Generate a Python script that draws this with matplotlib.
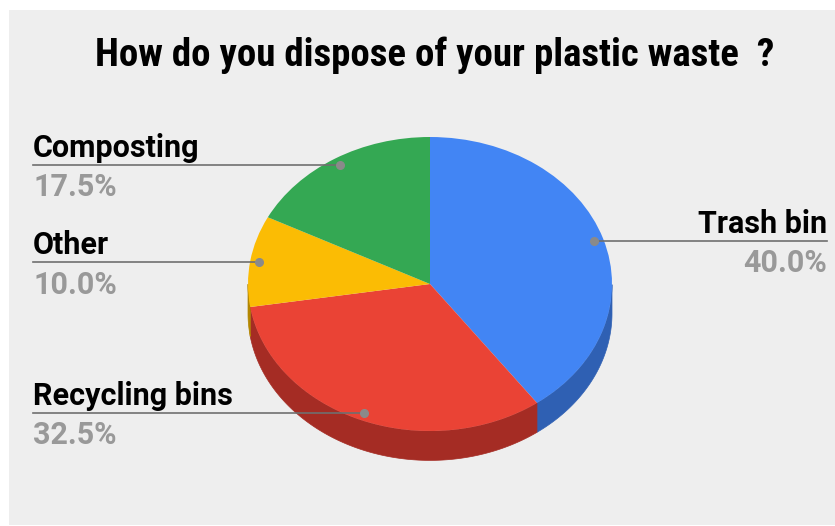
import matplotlib
matplotlib.use("Agg")
import matplotlib.pyplot as plt
import numpy as np
from matplotlib.patches import Rectangle, Polygon

# survey answers, clockwise from 12 o'clock
categories = ["Trash bin", "Recycling bins", "Other", "Composting"]
shares = [40.0, 32.5, 10.0, 17.5]
top_colors = ["#4285f4", "#ea4335", "#fbbc04", "#34a853"]
side_colors = ["#2f60b3", "#a52c24", "#b38600", "#23783a"]
title = "How do you dispose of your plastic waste  ?"

W, H = 835, 526
BG = "#eeeeee"
depth = 0.2          # thickness of the pie, in y-radius units
label_x = 2.18       # label column distance from the centre, in x-radius units

fig = plt.figure(figsize=(W / 100, H / 100), dpi=100, facecolor="white")
fig.patches.append(Rectangle((9 / W, 1 - 525 / H), 1 - 9 / W, (525 - 10) / H,
                             transform=fig.transFigure, facecolor=BG,
                             edgecolor="none", zorder=-10))

fig.text(435 / W, 1 - 55 / H, title, ha="center", va="center",
         family="Roboto Condensed", weight="bold", fontsize=28, color="#000000")

# pie axes: unit circle maps to an ellipse of 182 x 147 px centred at (430, 284)
rx, ry, cx, cy = 182, 147, 430, 284
xlo, xhi = -1.1, 1.1
ylo, yhi = -1.4, 1.1
ax = fig.add_axes([(cx + xlo * rx) / W, (H - cy + ylo * ry) / H,
                   (xhi - xlo) * rx / W, (yhi - ylo) * ry / H])

vals = np.array(shares)
fracs = vals / vals.sum()
ends = 90 - 360 * np.cumsum(fracs)
starts = ends + 360 * fracs

# side walls, only the front half (angles between 180 and 360) is visible
for a0, a1, c in zip(starts, ends, side_colors):
    seg = np.linspace(a1, a0, 400) % 360
    seg = np.sort(seg[(seg >= 180) & (seg <= 360)])
    if len(seg) < 2:
        continue
    t = np.radians(seg)
    top = np.column_stack([np.cos(t), np.sin(t)])
    bot = np.column_stack([np.cos(t[::-1]), np.sin(t[::-1]) - depth])
    ax.add_patch(Polygon(np.vstack([top, bot]), closed=True, facecolor=c,
                         edgecolor=c, linewidth=0.5, zorder=1))

wedges, _ = ax.pie(vals, colors=top_colors, startangle=90, counterclock=False,
                   wedgeprops=dict(linewidth=0, antialiased=True))
for w in wedges:
    w.set_zorder(2)

ax.set_aspect("auto")
ax.set_xlim(xlo, xhi)
ax.set_ylim(ylo, yhi)
ax.axis("off")

# leader lines and labels
mids = (starts + ends) / 2
for name, pct, mid in zip(categories, vals, mids):
    t = np.radians(mid)
    px, py = 0.95 * np.cos(t), 0.95 * np.sin(t)
    right = px > 0
    lx = label_x if right else -label_x
    ax.plot([px, lx], [py, py], color="#6f6f6f", lw=1.2, clip_on=False, zorder=3)
    ax.plot([px], [py], "o", color="#8a8a8a", ms=5.5, clip_on=False, zorder=4)
    ha = "right" if right else "left"
    ax.text(lx, py + 0.012, name, ha=ha, va="bottom", family="Roboto",
            weight="bold", fontsize=22, color="#000000", clip_on=False)
    ax.text(lx, py - 0.05, f"{pct:.1f}%", ha=ha, va="top", family="Roboto",
            weight="bold", fontsize=22, color="#999999", clip_on=False)

fig.savefig("out.png", dpi=100, facecolor="white")
